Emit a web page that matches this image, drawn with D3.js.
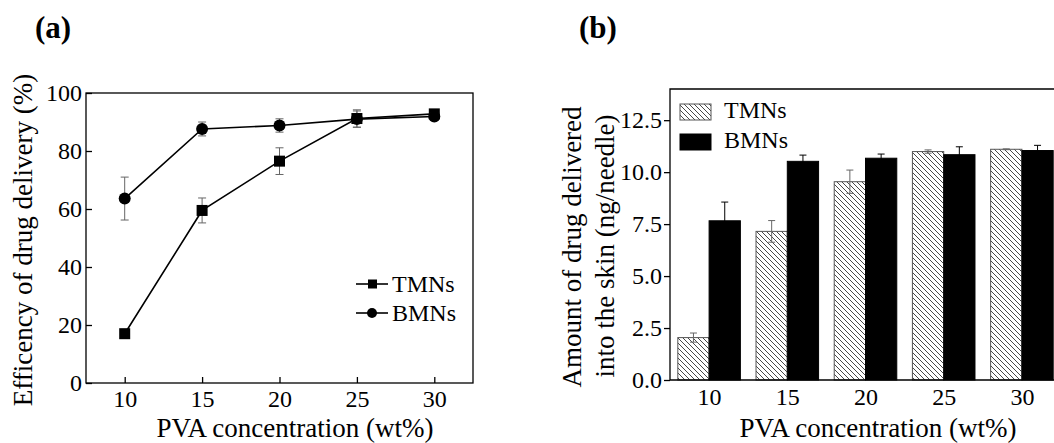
<!DOCTYPE html>
<html>
<head>
<meta charset="utf-8">
<script src="https://cdn.jsdelivr.net/npm/d3@7"></script>
<style>
  body { margin: 0; background: #fff; }
  svg { display: block; font-family: "Liberation Serif", "Times New Roman", serif; }
</style>
</head>
<body>
<svg id="chart" width="1054" height="443"></svg>
<script>
// data
const concentrations = [10, 15, 20, 25, 30];
const effTMN = [17, 59.5, 76.5, 91.2, 92.8];
const effTMNErr = [1.5, 4.3, 4.6, 3, 1];
const effBMN = [63.6, 87.6, 88.8, 91, 91.9];
const effBMNErr = [7.4, 2.4, 2.3, 2.8, 1.2];
const amtTMN = [2.04, 7.15, 9.54, 10.99, 11.1];
const amtTMNErr = [0.22, 0.52, 0.56, 0.08, 0.02];
const amtBMN = [7.66, 10.52, 10.67, 10.84, 11.04];
const amtBMNErr = [0.9, 0.3, 0.2, 0.38, 0.25];
const effTicks = [0, 20, 40, 60, 80, 100];
const amtTicks = [0, 2.5, 5, 7.5, 10, 12.5];

const svg = d3.select("#chart");

const defs = svg.append("defs");
defs.append("pattern")
    .attr("id", "hatch")
    .attr("patternUnits", "userSpaceOnUse")
    .attr("width", 5).attr("height", 5)
  .append("path")
    .attr("d", "M-1,-1 L6,6 M-1,4 L1,6 M4,-1 L6,1")
    .attr("stroke", "#333")
    .attr("stroke-width", 0.9);

// ---------- panel (a) ----------
const xa = d3.scaleLinear().domain([7.5, 32.5]).range([86, 473]);
const ya = d3.scaleLinear().domain([0, 100]).range([383, 93]);

const ga = svg.append("g");

ga.append("text").attr("x", 35).attr("y", 38)
    .attr("font-size", 31).attr("font-weight", "bold").text("(a)");

ga.append("rect")
    .attr("x", xa.range()[0]).attr("y", ya.range()[1])
    .attr("width", xa.range()[1] - xa.range()[0])
    .attr("height", ya.range()[0] - ya.range()[1])
    .attr("fill", "none").attr("stroke", "#000").attr("stroke-width", 1.3);

const axA = ga.append("g").attr("transform", `translate(0,${ya.range()[0]})`)
    .call(d3.axisBottom(xa).tickValues(concentrations).tickSizeInner(-6).tickSizeOuter(0).tickPadding(7));
const ayA = ga.append("g").attr("transform", `translate(${xa.range()[0]},0)`)
    .call(d3.axisLeft(ya).tickValues(effTicks).tickSizeInner(-6).tickSizeOuter(0).tickPadding(4));
[axA, ayA].forEach(a => {
  a.select(".domain").remove();
  a.selectAll("line").attr("stroke", "#000").attr("stroke-width", 1.3);
  a.selectAll("text").attr("font-size", 24).attr("fill", "#000")
      .attr("font-family", "Liberation Serif, serif");
});
axA.selectAll("text").attr("dy", "0.71em");

ga.append("text").attr("x", 295).attr("y", 437)
    .attr("text-anchor", "middle").attr("font-size", 27)
    .text("PVA concentration (wt%)");
ga.append("text").attr("transform", "translate(32,240) rotate(-90)")
    .attr("text-anchor", "middle").attr("font-size", 27)
    .text("Efficency of drug delivery (%)");

const linesA = [
  { name: "TMNs", vals: effTMN, err: effTMNErr, shape: "square" },
  { name: "BMNs", vals: effBMN, err: effBMNErr, shape: "circle" }
];

const lineGen = d3.line().x(d => xa(d[0])).y(d => ya(d[1]));

linesA.forEach(s => {
  const pts = concentrations.map((c, i) => [c, s.vals[i], s.err[i]]);
  const eg = ga.append("g");
  pts.forEach(p => {
    const x = xa(p[0]);
    eg.append("line").attr("x1", x).attr("x2", x)
        .attr("y1", ya(p[1] - p[2])).attr("y2", ya(p[1] + p[2]));
    [p[1] - p[2], p[1] + p[2]].forEach(v => {
      eg.append("line").attr("x1", x - 4).attr("x2", x + 4)
          .attr("y1", ya(v)).attr("y2", ya(v));
    });
  });
  eg.selectAll("line").attr("stroke", "#666").attr("stroke-width", 1);

  ga.append("path").datum(pts).attr("d", lineGen)
      .attr("fill", "none").attr("stroke", "#000").attr("stroke-width", 1.6);

  if (s.shape === "square") {
    ga.selectAll(null).data(pts).enter().append("rect")
        .attr("x", d => xa(d[0]) - 5.5).attr("y", d => ya(d[1]) - 5.5)
        .attr("width", 11).attr("height", 11).attr("fill", "#000");
  } else {
    ga.selectAll(null).data(pts).enter().append("circle")
        .attr("cx", d => xa(d[0])).attr("cy", d => ya(d[1]))
        .attr("r", 6).attr("fill", "#000");
  }
});

// legend (a)
linesA.forEach((s, i) => {
  const y = 284 + i * 29;
  ga.append("line").attr("x1", 356).attr("x2", 388).attr("y1", y).attr("y2", y)
      .attr("stroke", "#000").attr("stroke-width", 1.6);
  if (s.shape === "square") {
    ga.append("rect").attr("x", 368).attr("y", y - 4.5).attr("width", 9).attr("height", 9);
  } else {
    ga.append("circle").attr("cx", 372).attr("cy", y).attr("r", 5);
  }
  ga.append("text").attr("x", 392).attr("y", y + 8).attr("font-size", 24).text(s.name);
});

// ---------- panel (b) ----------
const xb = d3.scaleLinear().domain([7.5, 32.5]).range([670, 1061]);
const yb = d3.scaleLinear().domain([0, 14]).range([380, 89]);
const barW = xb(10) - xb(8);

const gb = svg.append("g");

gb.append("text").attr("x", 579).attr("y", 38)
    .attr("font-size", 31).attr("font-weight", "bold").text("(b)");

const barsB = [
  { name: "TMNs", vals: amtTMN, err: amtTMNErr, fill: "url(#hatch)", stroke: "#555", errColor: "#666", off: -1 },
  { name: "BMNs", vals: amtBMN, err: amtBMNErr, fill: "#000", stroke: "#000", errColor: "#000", off: 0 }
];

barsB.forEach(s => {
  const data = concentrations.map((c, i) => ({ c, v: s.vals[i], e: s.err[i] }));
  gb.selectAll(null).data(data).enter().append("rect")
      .attr("x", d => xb(d.c) + s.off * barW)
      .attr("y", d => yb(d.v))
      .attr("width", barW)
      .attr("height", d => yb(0) - yb(d.v))
      .attr("fill", "#fff");
  gb.selectAll(null).data(data).enter().append("rect")
      .attr("x", d => xb(d.c) + s.off * barW)
      .attr("y", d => yb(d.v))
      .attr("width", barW)
      .attr("height", d => yb(0) - yb(d.v))
      .attr("fill", s.fill).attr("stroke", s.stroke).attr("stroke-width", 1);
});

barsB.forEach(s => {
  const eg = gb.append("g");
  concentrations.forEach((c, i) => {
    const x = xb(c) + s.off * barW + barW / 2;
    const lo = s.vals[i] - s.err[i], hi = s.vals[i] + s.err[i];
    eg.append("line").attr("x1", x).attr("x2", x).attr("y1", yb(lo)).attr("y2", yb(hi));
    [lo, hi].forEach(v => eg.append("line")
        .attr("x1", x - 3.5).attr("x2", x + 3.5).attr("y1", yb(v)).attr("y2", yb(v)));
  });
  eg.selectAll("line").attr("stroke", s.errColor).attr("stroke-width", 1);
});

// frame (b)
gb.append("path")
    .attr("d", `M${xb.range()[1]},${yb.range()[1]} H${xb.range()[0]} V${yb.range()[0]} H${xb.range()[1]}`)
    .attr("fill", "none").attr("stroke", "#000").attr("stroke-width", 1.3);

const axB = gb.append("g").attr("transform", `translate(0,${yb.range()[0]})`)
    .call(d3.axisBottom(xb).tickValues(concentrations).tickSize(0).tickPadding(8));
const ayB = gb.append("g").attr("transform", `translate(${xb.range()[0]},0)`)
    .call(d3.axisLeft(yb).tickValues(amtTicks).tickFormat(d3.format(".1f"))
      .tickSizeInner(6).tickSizeOuter(0).tickPadding(2));
[axB, ayB].forEach(a => {
  a.select(".domain").remove();
  a.selectAll("line").attr("stroke", "#000").attr("stroke-width", 1.3);
  a.selectAll("text").attr("font-size", 24).attr("fill", "#000")
      .attr("font-family", "Liberation Serif, serif");
});
axB.selectAll("text").attr("dy", "0.71em");

gb.append("text").attr("x", 878).attr("y", 437)
    .attr("text-anchor", "middle").attr("font-size", 27)
    .text("PVA concentration (wt%)");
gb.append("text").attr("transform", "translate(581,247) rotate(-90)")
    .attr("text-anchor", "middle").attr("font-size", 27)
    .text("Amount of drug delivered");
gb.append("text").attr("transform", "translate(614,246) rotate(-90)")
    .attr("text-anchor", "middle").attr("font-size", 27)
    .text("into the skin (ng/needle)");

// legend (b)
barsB.forEach((s, i) => {
  const y = 104 + i * 30;
  gb.append("rect").attr("x", 680).attr("y", y).attr("width", 31).attr("height", 16)
      .attr("fill", s.fill).attr("stroke", s.stroke).attr("stroke-width", 1);
  gb.append("text").attr("x", 724).attr("y", y + 14).attr("font-size", 24).text(s.name);
});
</script>
</body>
</html>
